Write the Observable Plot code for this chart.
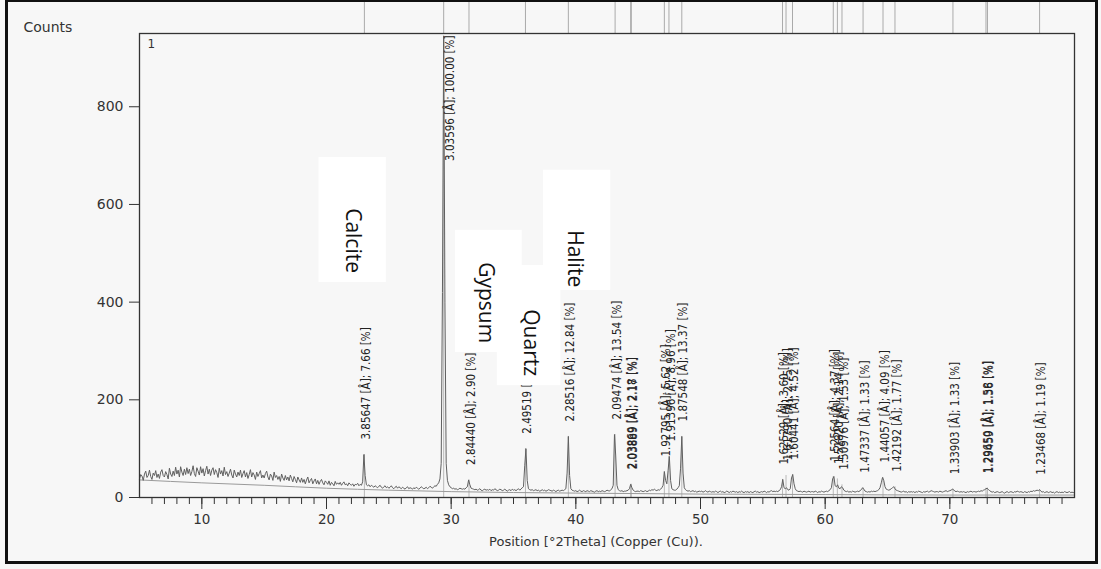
<!DOCTYPE html>
<html><head><meta charset="utf-8">
<script src="https://cdn.jsdelivr.net/npm/d3@7"></script>
<script src="https://cdn.jsdelivr.net/npm/@observablehq/plot@0.6"></script>
<style>
html,body{margin:0;padding:0;background:#f7f7f7;}
#wrap{position:relative;width:1101px;height:569px;overflow:hidden;background:#f7f7f7;}
#border{position:absolute;left:5px;top:-1px;width:1093px;height:565px;box-sizing:border-box;border:3px solid #111;pointer-events:none;}
#chart{position:absolute;left:0;top:0;}
</style></head>
<body><div id="wrap"><div id="chart"></div><div id="border"></div></div>
<script>
// ---- scan data (start angle, step, counts) ----
const scanStart = 5.0;
const scanStep = 0.1;
const counts = [
38,47,44,35,48,54,41,45,56,43,
37,50,45,55,41,48,39,52,57,45,
42,53,47,38,60,48,43,54,45,62,
48,56,42,63,52,45,58,47,61,49,
58,45,53,65,49,43,61,54,46,63,
50,59,44,55,64,48,58,45,56,61,
47,57,51,41,60,48,55,44,62,47,
53,43,50,58,46,40,56,48,42,52,
45,56,41,49,55,42,51,39,47,57,
42,51,46,37,52,43,49,55,40,46,
40,49,54,42,36,48,44,35,52,41,
45,37,43,33,48,40,35,45,36,42,
34,46,39,32,43,37,30,42,36,31,
40,31,37,28,36,42,30,35,39,28,
34,38,28,35,27,33,37,30,26,34,
31,27,34,25,31,28,24,33,27,30,
27,31,25,29,32,26,28,24,30,27,
25,28,23,27,26,29,24,27,25,32,
88,45,26,24,26,22,25,23,21,24,
22,20,23,25,21,19,22,24,20,22,
19,21,24,20,18,21,23,19,22,20,
18,21,19,17,20,22,18,20,19,17,
20,18,21,19,17,19,22,20,18,19,
21,18,20,23,21,19,22,24,23,27,
30,38,70,420,945,400,70,35,26,22,
20,18,19,17,18,16,17,19,18,17,
18,17,20,22,36,26,19,18,17,16,
17,15,16,18,15,14,16,17,15,16,
15,17,14,16,15,18,16,14,15,17,
16,14,15,17,15,13,15,16,14,17,
15,16,14,16,18,15,17,20,22,65,
100,35,18,16,15,16,14,15,16,14,
15,13,14,16,14,15,13,14,16,15,
14,13,15,14,12,14,15,13,14,15,
14,16,18,50,125,45,18,15,14,13,
14,12,13,15,13,12,14,13,12,14,
13,12,14,13,12,11,13,14,12,13,
12,14,13,12,13,15,14,13,16,18,
25,129,85,25,16,14,13,14,12,13,
13,14,15,18,27,20,15,13,12,13,
13,12,14,13,12,13,14,12,13,15,
14,16,15,17,15,14,16,15,17,20,
25,53,35,28,55,84,35,18,16,15,
15,17,20,24,60,125,50,20,16,14,
13,14,12,13,14,12,13,11,12,13,
12,13,11,12,14,12,11,13,12,11,
12,11,13,12,10,12,13,11,12,10,
11,13,12,10,12,11,13,12,11,12,
10,12,11,13,11,10,12,11,12,10,
12,11,10,12,13,11,12,10,11,12,
11,13,12,10,12,11,13,14,12,13,
12,13,12,14,16,22,37,20,18,20,
16,15,18,40,47,28,18,14,13,12,
13,12,11,13,12,11,12,13,11,12,
12,11,13,12,10,12,11,13,12,11,
12,13,12,14,16,20,38,43,24,22,
26,19,18,22,20,15,13,12,13,11,
12,11,13,12,11,12,13,12,14,16,
20,17,13,12,11,12,11,13,12,13,
12,13,14,16,20,30,41,35,22,17,
16,15,16,18,20,22,18,15,14,13,
12,11,12,13,11,12,10,12,11,12,
11,12,10,12,11,13,12,11,10,12,
11,12,13,11,12,14,13,12,11,12,
12,11,13,12,11,12,13,14,12,13,
14,15,17,16,13,12,13,12,11,12,
11,12,11,10,12,11,12,13,11,12,
12,11,12,13,12,14,13,15,16,18,
19,16,14,12,11,12,10,11,12,11,
10,11,12,10,9,11,12,10,11,12,
11,10,12,11,13,12,11,12,11,10,
12,11,10,12,11,13,12,14,13,14,
15,14,16,13,11,12,10,11,12,10,
11,12,10,11,9,11,12,10,11,10,
11,10,12,11,10,11,12,10,11,10,
11
];

// ---- fitted background ----
const bgTheta = [5, 10, 15, 20, 25, 30, 40, 50, 60, 70, 80];
const bgCounts = [36, 30, 25, 19, 15, 12, 9, 7, 6, 5, 5];

// ---- peak list ----
const peakTheta = [23.04, 29.40, 31.43, 35.96, 39.40, 43.15, 44.40, 44.45, 47.10, 47.47, 48.50,
  56.58, 56.86, 57.38, 60.65, 60.98, 61.35, 63.04, 64.64, 65.60, 70.25, 72.90, 73.02, 77.20];
const peakCounts = [88, 945, 36, 100, 125, 129, 27, 27, 53, 84, 125,
  37, 45, 47, 43, 38, 26, 20, 41, 22, 17, 19, 19, 16];
const peakLabel = [
  "3.85647 [Å]; 7.66 [%]", "3.03596 [Å]; 100.00 [%]", "2.84440 [Å]; 2.90 [%]",
  "2.49519 [Å]; 10.68 [%]", "2.28516 [Å]; 12.84 [%]", "2.09474 [Å]; 13.54 [%]",
  "2.03869 [Å]; 2.18 [%]", "2.03889 [Å]; 2.17 [%]", "1.92795 [Å]; 5.62 [%]",
  "1.91396 [Å]; 8.96 [%]", "1.87548 [Å]; 13.37 [%]", "1.62529 [Å]; 3.60 [%]",
  "1.61790 [Å]; 2.75 [%]", "1.60441 [Å]; 4.52 [%]", "1.52564 [Å]; 4.37 [%]",
  "1.51820 [Å]; 2.14 [%]", "1.50976 [Å]; 1.53 [%]", "1.47337 [Å]; 1.33 [%]",
  "1.44057 [Å]; 4.09 [%]", "1.42192 [Å]; 1.77 [%]", "1.33903 [Å]; 1.33 [%]",
  "1.29650 [Å]; 1.58 [%]", "1.29459 [Å]; 1.36 [%]", "1.23468 [Å]; 1.19 [%]"
];

// ---- phase annotations (data coordinates) ----
const phaseName = ["Calcite", "Gypsum", "Quartz", "Halite"];
const phaseX1 = [19.4, 30.35, 33.7, 37.4];
const phaseX2 = [24.8, 35.7, 38.8, 42.8];
const phaseY1 = [440, 297, 229, 424];
const phaseY2 = [696, 547, 475, 670];
const phaseTextX = [22.1, 32.75, 36.35, 39.95];
const phaseTextY = [526, 399, 317, 489];

const xTicks = [10, 20, 30, 40, 50, 60, 70];
const yTicks = [0, 200, 400, 600, 800];
const minorTicks = d3.range(6, 80);

// ---- tables ----
const scan = counts.map((c, i) => ({theta: +(scanStart + i * scanStep).toFixed(2), counts: c}));
const background = bgTheta.map((t, i) => ({theta: t, counts: bgCounts[i]}));
const peaks = peakTheta.map((t, i) => ({theta: t, counts: peakCounts[i], label: peakLabel[i]}));
const phases = phaseName.map((n, i) => ({name: n, x1: phaseX1[i], x2: phaseX2[i], y1: phaseY1[i], y2: phaseY2[i], tx: phaseTextX[i], ty: phaseTextY[i]}));

const Y_MAX = 950;
const labelFont = "'DejaVu Sans Condensed', 'DejaVu Sans', sans-serif";
const axisFont = "'DejaVu Sans', sans-serif";

const chart = Plot.plot({
  width: 1101,
  height: 569,
  marginLeft: 139,
  marginRight: 27,
  marginTop: 33,
  marginBottom: 72,
  style: {background: "transparent", overflow: "visible", fontFamily: axisFont},
  x: {domain: [5, 80]},
  y: {domain: [0, Y_MAX]},
  marks: [
    Plot.ruleX(peaks, {x: "theta", insetTop: -33, insetBottom: 464, stroke: "#aaa", strokeWidth: 1}),
    Plot.ruleX(peaks, {x: "theta", y1: 0, y2: "counts", stroke: "#aaa", strokeWidth: 0.8}),
    Plot.line(background, {x: "theta", y: "counts", curve: "monotone-x", stroke: "#9a9a9a", strokeWidth: 1}),
    Plot.line(scan, {x: "theta", y: "counts", stroke: "#606060", strokeWidth: 1}),
    Plot.text(peaks.filter(d => d.counts < 700), {x: "theta", y: "counts", text: "label", rotate: -90,
      textAnchor: "start", dy: -15, dx: 2, fontSize: 11.5, fontFamily: labelFont, fill: "#222"}),
    Plot.text(peaks.filter(d => d.counts >= 700), {x: "theta", frameAnchor: "top", text: "label", rotate: -90,
      textAnchor: "end", dy: 2, dx: 2, fontSize: 11.5, fontFamily: labelFont, fill: "#222"}),
    Plot.rect(phases, {x1: "x1", x2: "x2", y1: "y1", y2: "y2", fill: "#ffffff"}),
    Plot.text(phases, {x: "tx", y: "ty", text: "name", rotate: 90, fontSize: 21, fontFamily: "'Open Sans', sans-serif", fill: "#111"}),
    Plot.frame({stroke: "#333", strokeWidth: 1.3}),
    Plot.axisY({ticks: yTicks, tickSize: 10, tickPadding: 6, fontSize: 14, label: null, color: "#333"}),
    Plot.axisX({ticks: xTicks, tickSize: 12, tickPadding: 5, fontSize: 13.5, label: null, color: "#333"}),
    Plot.axisX({ticks: minorTicks, tickSize: 7, tickFormat: () => "", label: null, color: "#333"}),
    Plot.text(["Counts"], {frameAnchor: "top-left", dx: -116, dy: -11, textAnchor: "start", fontSize: 14, fontFamily: axisFont, fill: "#333"}),
    Plot.text(["1"], {frameAnchor: "top-left", dx: 8, dy: 6, textAnchor: "start", fontSize: 12, fontFamily: axisFont, fill: "#333"}),
    Plot.text(["Position [°2Theta] (Copper (Cu))."], {frameAnchor: "bottom", dx: -11, dy: 48, fontSize: 13, fontFamily: axisFont, fill: "#333"})
  ]
});
document.getElementById("chart").appendChild(chart);
</script>
</body></html>
